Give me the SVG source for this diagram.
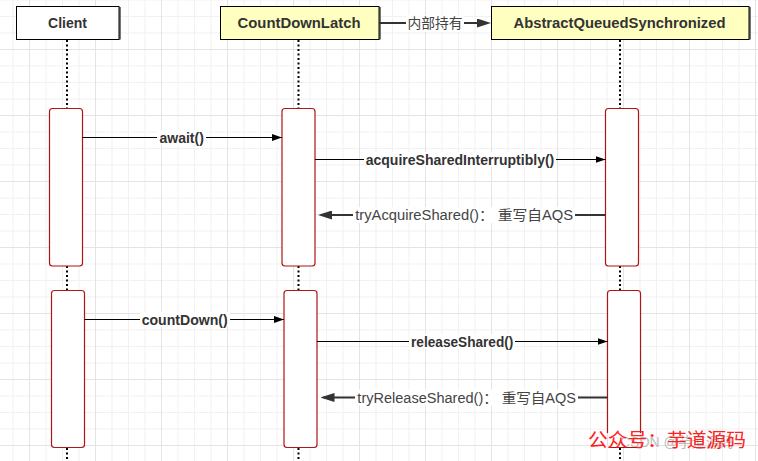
<svg xmlns="http://www.w3.org/2000/svg" width="758" height="461" viewBox="0 0 758 461">
<style>
.hdr{font-family:"Liberation Sans","Noto Sans CJK SC",sans-serif;font-size:14px;font-weight:bold;fill:#333;text-anchor:middle}
.msg{font-family:"Liberation Sans","Noto Sans CJK SC",sans-serif;font-size:14px;font-weight:bold;fill:#333;text-anchor:middle}
.ret{font-family:"Liberation Sans","Noto Sans CJK SC",sans-serif;font-size:14px;fill:#444;text-anchor:middle}
.box{stroke:#000;stroke-width:1}
.act{fill:#fff;stroke:#b01515;stroke-width:1.2}
.life{stroke:#000;stroke-width:2;stroke-dasharray:2 2.5;fill:none}
.call{stroke:#000;stroke-width:1;fill:none}
.back{stroke:#333;stroke-width:2;fill:none}
.lbg{fill:#fff}
</style>
<defs>
<pattern id="grid" x="29" y="49" width="66" height="66" patternUnits="userSpaceOnUse">
<rect x="16.5" y="0" width="1" height="66" fill="#f1f1f1"/>
<rect x="33" y="0" width="1" height="66" fill="#f1f1f1"/>
<rect x="49.5" y="0" width="1" height="66" fill="#f1f1f1"/>
<rect x="0" y="16.5" width="66" height="1" fill="#f1f1f1"/>
<rect x="0" y="33" width="66" height="1" fill="#f1f1f1"/>
<rect x="0" y="49.5" width="66" height="1" fill="#f1f1f1"/>
<rect x="0" y="0" width="1" height="66" fill="#e4e4e4"/>
<rect x="0" y="0" width="66" height="1" fill="#e4e4e4"/>
</pattern>
<marker id="thin" markerUnits="userSpaceOnUse" markerWidth="10" markerHeight="7" refX="10" refY="3.5" orient="auto">
<path d="M0,0 L10,3.5 L0,7 z" fill="#000"/>
</marker>
<marker id="thick" markerUnits="userSpaceOnUse" markerWidth="14" markerHeight="9" refX="11" refY="4.5" orient="auto">
<path d="M0,0 L14,4.5 L0,9 z" fill="#333"/>
</marker>
</defs>
<rect width="758" height="461" fill="#fff"/>
<rect width="758" height="461" fill="url(#grid)"/>

<g id="lifelines">
<path class="life" d="M67,40 V108 M67,266 V290 M67,448 V461"/>
<path class="life" d="M298.5,40 V108 M298.5,266 V290 M298.5,448 V461"/>
<path class="life" d="M620,40 V108 M620,266 V290 M620,448 V461"/>
</g>

<g id="client">
<rect x="119" y="7" width="2" height="32.5" fill="#777"/>
<rect class="box" x="16.5" y="6.5" width="102.5" height="33" fill="#fff"/>
<text class="hdr" x="67.5" y="28">Client</text>
</g>
<g id="countdownlatch">
<rect x="379" y="7" width="2" height="32.5" fill="#777"/>
<rect class="box" x="220.5" y="6.5" width="158.5" height="33" fill="#ffffc0"/>
<text class="hdr" x="299" y="28" textLength="123" lengthAdjust="spacingAndGlyphs">CountDownLatch</text>
</g>
<g id="aqs">
<rect x="749" y="7" width="2" height="32.5" fill="#777"/>
<rect class="box" x="491.5" y="6.5" width="257.5" height="33" fill="#ffffc0"/>
<text class="hdr" x="619.5" y="28" textLength="212" lengthAdjust="spacingAndGlyphs">AbstractQueuedSynchronized</text>
</g>

<g id="act-client-1"><rect class="act" x="49.5" y="108.5" width="33" height="157.5" rx="3"/></g>
<g id="act-cdl-1"><rect class="act" x="282" y="108.5" width="33" height="157.5" rx="3"/></g>
<g id="act-aqs-1"><rect class="act" x="605.5" y="108.5" width="33" height="157.5" rx="3"/></g>
<g id="act-client-2"><rect class="act" x="51.5" y="290.5" width="33" height="157" rx="3"/></g>
<g id="act-cdl-2"><rect class="act" x="284" y="290.5" width="33" height="157" rx="3"/></g>
<g id="act-aqs-2"><rect class="act" x="607.5" y="290.5" width="33" height="157" rx="3"/></g>

<g id="connectors">
<line class="back" x1="379" y1="23" x2="488" y2="23" marker-end="url(#thick)"/>
<rect class="lbg" x="406" y="15" width="58" height="17"/>
<text class="ret" x="435" y="28" style="font-size:13.5px" textLength="55" lengthAdjust="spacingAndGlyphs">内部持有</text>

<line class="call" x1="82.5" y1="137.5" x2="282" y2="137.5" marker-end="url(#thin)"/>
<rect class="lbg" x="157" y="130" width="49" height="15"/>
<text class="msg" x="181.7" y="142.5">await()</text>

<line class="call" x1="315" y1="159.5" x2="605.5" y2="159.5" marker-end="url(#thin)"/>
<rect class="lbg" x="364" y="152" width="192" height="15"/>
<text class="msg" x="460" y="164.5" textLength="188.6" lengthAdjust="spacingAndGlyphs">acquireSharedInterruptibly()</text>

<line class="back" x1="605.5" y1="215" x2="321" y2="215" marker-end="url(#thick)"/>
<rect class="lbg" x="353" y="207" width="222" height="16"/>
<text class="ret" x="464.2" y="220" textLength="218" lengthAdjust="spacingAndGlyphs">tryAcquireShared()： 重写自AQS</text>

<line class="call" x1="84.5" y1="319.5" x2="284" y2="319.5" marker-end="url(#thin)"/>
<rect class="lbg" x="140" y="312" width="90" height="15"/>
<text class="msg" x="184.7" y="324.5" textLength="86" lengthAdjust="spacingAndGlyphs">countDown()</text>

<line class="call" x1="317" y1="341.5" x2="607.5" y2="341.5" marker-end="url(#thin)"/>
<rect class="lbg" x="409" y="334" width="106" height="15"/>
<text class="msg" x="462.2" y="346.5" textLength="102.3" lengthAdjust="spacingAndGlyphs">releaseShared()</text>

<line class="back" x1="607.5" y1="397.5" x2="323.5" y2="397.5" marker-end="url(#thick)"/>
<rect class="lbg" x="355" y="389.5" width="223" height="16"/>
<text class="ret" x="466.7" y="402.5" textLength="218.7" lengthAdjust="spacingAndGlyphs">tryReleaseShared()： 重写自AQS</text>
</g>

<g id="watermark">
<rect x="600" y="433" width="50" height="14" fill="#fff" opacity="0.85"/>
<text x="620" y="447" style="font-family:'Liberation Sans','Noto Sans CJK SC',sans-serif;font-size:14px;fill:#bbb">CSDN @芋道源码</text>
<text x="588" y="447" style="font-family:'Noto Sans CJK SC',sans-serif;font-size:19px;fill:#ff2020" textLength="158" lengthAdjust="spacingAndGlyphs">公众号：芋道源码</text>
</g>
</svg>
